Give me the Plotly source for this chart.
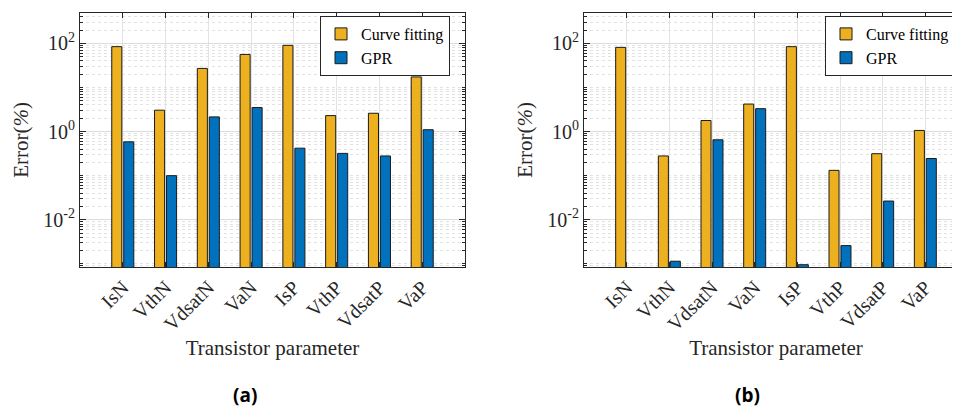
import plotly.graph_objects as go

categories = ["IsN", "VthN", "VdsatN", "VaN", "IsP", "VthP", "VdsatP", "VaP"]
a_curve_fitting = [84, 3.05, 27, 56, 90, 2.3, 2.6, 17.3]
a_gpr = [0.585, 0.1, 2.15, 3.5, 0.42, 0.32, 0.28, 1.1]
b_curve_fitting = [81, 0.28, 1.78, 4.2, 84, 0.132, 0.315, 1.06]
b_gpr = [0.0008, 0.00115, 0.65, 3.3, 0.00096, 0.0026, 0.0266, 0.245]

major_vals = [1e-2, 1, 1e2]
major_text = ["10<sup>-2</sup>", "10<sup>0</sup>", "10<sup>2</sup>"]
minor_vals = []
for n in range(-4, 3):
    for k in range(1, 10):
        v = k * 10.0 ** n
        if 10 ** -3.07 <= v <= 10 ** 2.694 and v not in major_vals:
            minor_vals.append(v)

ORANGE = "#EDB120"
BLUE = "#0072BD"
AX = "#262626"
SERIF = "Liberation Serif"

fig = go.Figure()
panels = [("x", "y", "legend", a_curve_fitting, a_gpr),
          ("x2", "y2", "legend2", b_curve_fitting, b_gpr)]
for xa, ya, lg, cf, gp in panels:
    fig.add_trace(go.Bar(x=categories, y=cf, name="Curve fitting", xaxis=xa, yaxis=ya,
                         legend=lg, marker=dict(color=ORANGE, line=dict(color="#1a1a1a", width=1))))
    fig.add_trace(go.Bar(x=categories, y=gp, name="GPR", xaxis=xa, yaxis=ya,
                         legend=lg, marker=dict(color=BLUE, line=dict(color="#1a1a1a", width=1))))

# page shows the figure offset by the 8px body margin; positions below compensate
W, H, OFF = 960.0, 407.0, 8.0
def px(x):
    return (x - OFF) / W
def py(y):
    return (H - (y - OFF)) / H

ydom = [py(267.0), py(12.7)]

def xax(domain, rng, anchor):
    return dict(domain=domain, type="category", categoryorder="array", categoryarray=categories,
                range=rng, showline=True, linecolor=AX, linewidth=1, mirror="ticks",
                ticks="inside", ticklen=5, tickcolor=AX, tickangle=-45,
                tickfont=dict(family=SERIF, size=20, color=AX),
                showgrid=True, gridcolor="#e3e3e3", gridwidth=1, automargin=False,
                title=dict(text="Transistor parameter", font=dict(family=SERIF, size=21, color=AX), standoff=6),
                anchor=anchor, zeroline=False)

def yax(anchor):
    return dict(domain=ydom, type="log", range=[-3.07, 2.694], anchor=anchor,
                tickmode="array", tickvals=major_vals, ticktext=major_text,
                showline=True, linecolor=AX, linewidth=1, mirror="allticks",
                ticks="inside", ticklen=6, tickcolor=AX, automargin=False,
                tickfont=dict(family=SERIF, size=20, color=AX),
                showgrid=True, gridcolor="#dcdcdc", gridwidth=1, zeroline=False,
                minor=dict(tickmode="array", tickvals=minor_vals, ticks="inside", ticklen=3,
                           tickcolor=AX, showgrid=True, gridcolor="#e2e2e2", griddash="dot", gridwidth=1),
                title=dict(text="Error(<i>%</i>)", font=dict(family=SERIF, size=21, color=AX), standoff=8))

leg = dict(font=dict(family=SERIF, size=16, color="#000"), bgcolor="white", bordercolor=AX,
           borderwidth=1, xanchor="left", yanchor="top", tracegroupgap=0, itemwidth=30)

fig.update_layout(
    width=W, height=H, margin=dict(l=0, r=0, t=0, b=0, autoexpand=False),
    paper_bgcolor="white", plot_bgcolor="white",
    barmode="group", bargap=0.44, bargroupgap=0.16,
    xaxis=xax([px(80), px(465)], [-1, 8], "y"),
    xaxis2=xax([px(584), 1.0], [-1, 8], "y2"),
    yaxis=yax("x"), yaxis2=yax("x2"),
    legend=dict(leg, x=px(320), y=py(16)),
    legend2=dict(leg, x=px(825), y=py(16)),
    annotations=[
        dict(text="<b>(a)</b>", x=px(245), y=py(395), xref="paper", yref="paper",
             xanchor="center", yanchor="middle",
             showarrow=False, font=dict(family="Open Sans", size=19, color="#000")),
        dict(text="<b>(b)</b>", x=px(747), y=py(395), xref="paper", yref="paper",
             xanchor="center", yanchor="middle",
             showarrow=False, font=dict(family="Open Sans", size=19, color="#000")),
    ],
)

fig.write_html("out.html")
